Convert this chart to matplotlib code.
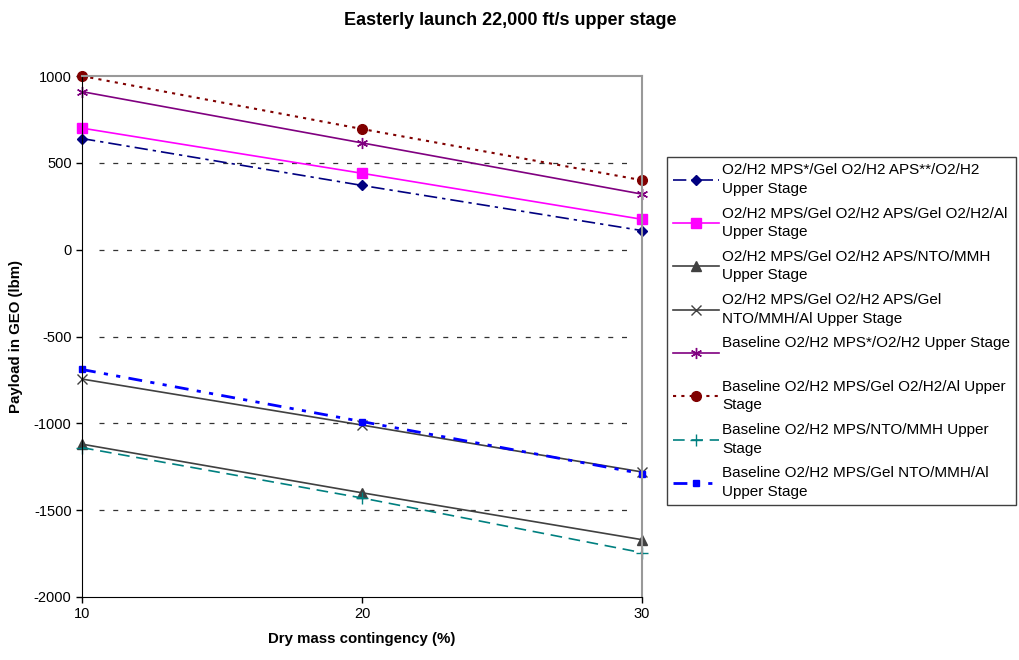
import matplotlib.pyplot as plt

plt.rcParams['font.family'] = ['Liberation Sans', 'DejaVu Sans']
plt.rcParams['axes.unicode_minus'] = False

contingency = [10, 20, 30]

# payload in GEO (lbm) for each configuration
mps_gel_apsgel_o2h2 = [640, 370, 110]
mps_gel_aps_gel_o2h2al = [700, 440, 175]
mps_gel_aps_nto = [-1120, -1400, -1670]
mps_gel_aps_gel_ntoal = [-745, -1010, -1280]
base_o2h2 = [910, 615, 320]
base_gel_o2h2al = [1000, 695, 400]
base_nto = [-1140, -1430, -1745]
base_gel_ntoal = [-690, -990, -1290]

labels = [
    'O2/H2 MPS*/Gel O2/H2 APS**/O2/H2\nUpper Stage',
    'O2/H2 MPS/Gel O2/H2 APS/Gel O2/H2/Al\nUpper Stage',
    'O2/H2 MPS/Gel O2/H2 APS/NTO/MMH\nUpper Stage',
    'O2/H2 MPS/Gel O2/H2 APS/Gel\nNTO/MMH/Al Upper Stage',
    'Baseline O2/H2 MPS*/O2/H2 Upper Stage\n ',
    'Baseline O2/H2 MPS/Gel O2/H2/Al Upper\nStage',
    'Baseline O2/H2 MPS/NTO/MMH Upper\nStage',
    'Baseline O2/H2 MPS/Gel NTO/MMH/Al\nUpper Stage',
]

fig = plt.figure(figsize=(10.2, 6.6), dpi=100)
ax = fig.add_axes([0.0804, 0.0955, 0.5490, 0.7893])

ax.plot(contingency, mps_gel_apsgel_o2h2, color='#000080', lw=1.2,
        ls=(0, (8, 3, 2, 3)), marker='D', ms=5, label=labels[0], clip_on=False)
ax.plot(contingency, mps_gel_aps_gel_o2h2al, color='#FF00FF', lw=1.2,
        ls='-', marker='s', ms=7, label=labels[1], clip_on=False)
ax.plot(contingency, mps_gel_aps_nto, color='#404040', lw=1.2,
        ls='-', marker='^', ms=7, label=labels[2], clip_on=False)
ax.plot(contingency, mps_gel_aps_gel_ntoal, color='#404040', lw=1.2,
        ls='-', marker='x', ms=7, label=labels[3], clip_on=False)
ax.plot(contingency, base_o2h2, color='#800080', lw=1.2,
        ls='-', marker=(6, 2, 0), ms=8, label=labels[4], clip_on=False)
ax.plot(contingency, base_gel_o2h2al, color='#800000', lw=1.5,
        ls=(0, (1.5, 2.5)), marker='o', ms=7, label=labels[5], clip_on=False)
ax.plot(contingency, base_nto, color='#008080', lw=1.2,
        ls=(0, (7, 4)), marker='+', ms=8, label=labels[6], clip_on=False)
ax.plot(contingency, base_gel_ntoal, color='#0000FF', lw=2,
        ls=(0, (5, 3, 1.5, 3, 1.5, 3)), marker='s', ms=4, label=labels[7],
        clip_on=False)

ax.set_xlim(10, 30)
ax.set_ylim(-2000, 1000)
ax.set_xticks([10, 20, 30])
ax.set_yticks(range(-2000, 1001, 500))
ax.tick_params(labelsize=10.5, direction='out', length=4, width=1)

for yv in [500, 0, -500, -1000, -1500]:
    ax.plot([10.6, 29.7], [yv, yv], color='#333333', lw=0.9,
            ls=(0, (4, 7)), zorder=0)

ax.spines['left'].set_color('black')
ax.spines['bottom'].set_color('black')
ax.spines['top'].set_color('#999999')
ax.spines['right'].set_color('#999999')
ax.spines['top'].set_linewidth(1.5)
ax.spines['right'].set_linewidth(1.5)

ax.set_xlabel('Dry mass contingency (%)', fontsize=10.8, fontweight='bold', labelpad=8)
ax.set_ylabel('Payload in GEO (lbm)', fontsize=10.8, fontweight='bold', labelpad=8)
fig.suptitle('Easterly launch 22,000 ft/s upper stage', fontsize=13,
             fontweight='bold', x=0.5, y=0.982)

leg = fig.legend(loc='upper left', bbox_to_anchor=(0.654, 0.762),
                 fontsize=11, handlelength=3.0, fancybox=False,
                 edgecolor='#404040', framealpha=1, borderaxespad=0,
                 labelspacing=0.7, handletextpad=0.2, borderpad=0.4)
leg.get_frame().set_linewidth(1)
for t in leg.get_texts():
    t.set_linespacing(1.42)

fig.savefig('out.png', dpi=100)
